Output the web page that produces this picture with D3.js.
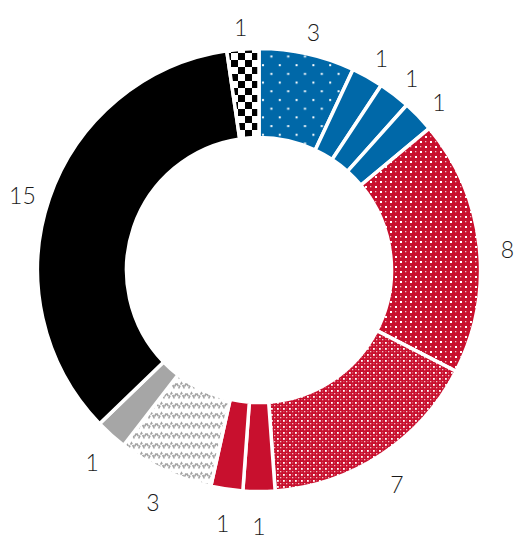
<!DOCTYPE html>
<html>
<head>
<meta charset="utf-8">
<script src="https://cdn.jsdelivr.net/npm/d3@7"></script>
<style>
  html, body { margin: 0; padding: 0; background: #fff; }
</style>
</head>
<body>
<script>
// slice values, clockwise from 12 o'clock
const values = [3, 1, 1, 1, 8, 7, 1, 1, 3, 1, 15, 1];
// which swatch each slice uses
const groups = ["blueDots", "blue", "blue", "blue", "redDots", "redCross", "red", "red", "greyWave", "grey", "black", "checker"];
const labels = values.map(String);

const width = 515;
const height = 539;
const cx = 259;
const cy = 270;

const colors = {
  blue: "#0068a8",
  red: "#c8102e",
  grey: "#a6a6a6",
  black: "#000000",
  text: "#1a1a1a",
};

const fills = {
  blueDots: "url(#blueDots)",
  blue: colors.blue,
  redDots: "url(#redDots)",
  redCross: "url(#redCross)",
  red: colors.red,
  greyWave: "url(#greyWave)",
  grey: colors.grey,
  black: colors.black,
  checker: "url(#checker)",
};

const svg = d3
  .select("body")
  .append("svg")
  .attr("width", width)
  .attr("height", height)
  .attr("viewBox", `0 0 ${width} ${height}`);

svg.append("rect").attr("width", width).attr("height", height).attr("fill", "#fff");

const defs = svg.append("defs");

// blue with sparse staggered white dots
const blueDots = defs
  .append("pattern")
  .attr("id", "blueDots")
  .attr("patternUnits", "userSpaceOnUse")
  .attr("width", 16.8)
  .attr("height", 17.4);
blueDots.append("rect").attr("width", 16.8).attr("height", 17.4).attr("fill", colors.blue);
blueDots.append("rect").attr("x", 3).attr("y", 3).attr("width", 2).attr("height", 2).attr("fill", "#fff");
blueDots.append("rect").attr("x", 11.4).attr("y", 11.7).attr("width", 2).attr("height", 2).attr("fill", "#fff");

// red with denser white dots
const redDots = defs
  .append("pattern")
  .attr("id", "redDots")
  .attr("patternUnits", "userSpaceOnUse")
  .attr("width", 10)
  .attr("height", 10);
redDots.append("rect").attr("width", 10).attr("height", 10).attr("fill", colors.red);
redDots.append("rect").attr("x", 1).attr("y", 1).attr("width", 2).attr("height", 2).attr("fill", "#fff");
redDots.append("rect").attr("x", 6).attr("y", 6).attr("width", 2).attr("height", 2).attr("fill", "#fff");
redDots.append("rect").attr("x", 6).attr("y", 1).attr("width", 1.3).attr("height", 1.3).attr("fill", "#eeb8c1");
redDots.append("rect").attr("x", 1).attr("y", 6).attr("width", 1.3).attr("height", 1.3).attr("fill", "#eeb8c1");

// red fine lattice
const redCross = defs
  .append("pattern")
  .attr("id", "redCross")
  .attr("patternUnits", "userSpaceOnUse")
  .attr("width", 6)
  .attr("height", 6);
redCross.append("rect").attr("width", 6).attr("height", 6).attr("fill", colors.red);
redCross.append("rect").attr("x", 0).attr("y", 0).attr("width", 1.8).attr("height", 1.8).attr("fill", "#fff");
redCross.append("rect").attr("x", 3).attr("y", 3).attr("width", 1.3).attr("height", 1.3).attr("fill", "#f2c2ca");
redCross.append("rect").attr("x", 3.2).attr("y", 0.4).attr("width", 0.9).attr("height", 0.9).attr("fill", "#e993a1");
redCross.append("rect").attr("x", 0.4).attr("y", 3.2).attr("width", 0.9).attr("height", 0.9).attr("fill", "#e993a1");

// grey zigzag on white
const greyWave = defs
  .append("pattern")
  .attr("id", "greyWave")
  .attr("patternUnits", "userSpaceOnUse")
  .attr("width", 10)
  .attr("height", 10);
greyWave.append("rect").attr("width", 10).attr("height", 10).attr("fill", "#fff");
greyWave
  .append("path")
  .attr("d", "M-2.5,3 L0,7.5 L2.5,3 L5,7.5 L7.5,3 L10,7.5 L12.5,3")
  .attr("fill", "none")
  .attr("stroke", "#a3a3a3")
  .attr("stroke-width", 1.7)
  .attr("stroke-dasharray", "3.2 1");

// black and white checkerboard
const checker = defs
  .append("pattern")
  .attr("id", "checker")
  .attr("patternUnits", "userSpaceOnUse")
  .attr("width", 14)
  .attr("height", 14);
checker.append("rect").attr("width", 14).attr("height", 14).attr("fill", "#fff");
checker.append("rect").attr("x", 0).attr("y", 0).attr("width", 7).attr("height", 7).attr("fill", "#000");
checker.append("rect").attr("x", 7).attr("y", 7).attr("width", 7).attr("height", 7).attr("fill", "#000");

const pie = d3.pie().sort(null).value((d) => d);
const arcs = pie(values);

const arc = d3.arc().innerRadius(132.5).outerRadius(221.5);
const labelArc = d3.arc().innerRadius(250).outerRadius(250);

const g = svg.append("g").attr("transform", `translate(${cx}, ${cy})`);

g.selectAll("path")
  .data(arcs)
  .join("path")
  .attr("d", arc)
  .attr("fill", (d, i) => fills[groups[i]])
  .attr("stroke", "#fff")
  .attr("stroke-width", 3.5)
  .attr("stroke-linejoin", "miter");

g.selectAll("text")
  .data(arcs)
  .join("text")
  .attr("x", (d) => labelArc.centroid(d)[0])
  .attr("y", (d) => labelArc.centroid(d)[1] + 6)
  .attr("text-anchor", "middle")
  .attr("dominant-baseline", "central")
  .attr("fill", colors.text)
  .attr("font-family", "Lato, 'Open Sans', sans-serif")
  .attr("font-weight", 300)
  .attr("font-size", 23)
  .text((d, i) => labels[i]);
</script>
</body>
</html>
